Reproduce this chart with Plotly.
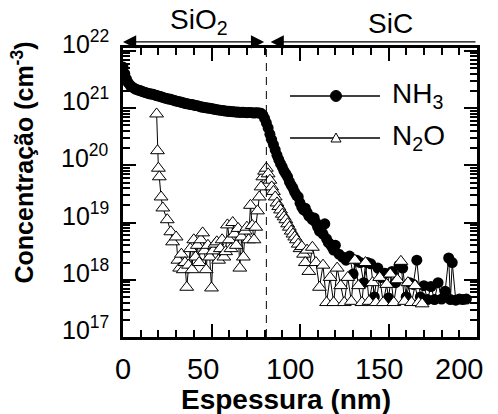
import plotly.graph_objects as go

# ---------------- data ----------------
nh3_x = [0, 1, 2, 3, 4, 5, 6, 7, 8, 9, 10, 11, 12, 13, 14, 15, 16, 17, 18, 19,
         20, 21, 22, 23, 24, 25, 26, 27, 28, 29, 30, 31, 32, 33, 34, 35, 36, 37, 38, 39,
         40, 41, 42, 43, 44, 45, 46, 47, 48, 49, 50, 51, 52, 53, 54, 55, 56, 57, 58, 59,
         60, 61, 62, 63, 64, 65, 66, 67, 68, 69, 70, 71, 72, 73, 74, 75, 76, 77, 78, 79,
         80, 81, 82, 83, 84, 85, 86, 87, 88, 89, 90, 91, 92, 93, 94, 95, 96, 97, 98, 99,
         100, 101, 102, 103, 104, 105, 106, 107, 108, 109, 110, 111, 112, 113, 114, 115,
         116, 117, 118, 119, 120, 122, 124, 126, 128, 130, 132, 134, 136, 138, 140, 142,
         144, 146, 148, 150, 152, 154, 156, 158, 160, 162, 164, 166, 168, 170, 172, 174,
         176, 178, 180, 182, 184, 185, 186, 188, 190, 192, 194]
nh3_y = [5.2e21, 4.0e21, 3.2e21, 2.75e21, 2.5e21, 2.35e21, 2.25e21, 2.15e21, 2.1e21, 2.05e21,
         2.0e21, 1.95e21, 1.9e21, 1.86e21, 1.82e21, 1.78e21, 1.76e21, 1.74e21, 1.70e21, 1.66e21,
         1.62e21, 1.6e21, 1.56e21, 1.52e21, 1.49e21, 1.46e21, 1.44e21, 1.42e21, 1.39e21, 1.36e21,
         1.33e21, 1.31e21, 1.29e21, 1.26e21, 1.24e21, 1.21e21, 1.19e21, 1.18e21, 1.16e21, 1.15e21,
         1.13e21, 1.11e21, 1.10e21, 1.08e21, 1.05e21, 1.04e21, 1.02e21, 1.01e21, 1.0e21, 9.9e20,
         9.8e20, 9.6e20, 9.5e20, 9.4e20, 9.3e20, 9.2e20, 9.1e20, 9.0e20, 8.9e20, 8.85e20,
         8.8e20, 8.7e20, 8.6e20, 8.65e20, 8.5e20, 8.55e20, 8.4e20, 8.5e20, 8.45e20, 8.4e20,
         8.3e20, 8.4e20, 8.35e20, 8.3e20, 8.2e20, 8.3e20, 8.25e20, 8.2e20, 8.1e20, 7.6e20,
         6.6e20, 5.5e20, 4.5e20, 3.5e20, 2.8e20, 2.3e20, 1.86e20, 1.5e20, 1.26e20, 1.07e20,
         9.3e19, 7.9e19, 7.1e19, 6.3e19, 5.2e19, 4.5e19, 4.0e19, 3.4e19, 3.0e19, 2.8e19,
         2.2e19, 1.86e19, 1.66e19, 1.78e19, 1.5e19, 1.3e19, 1.26e19, 1.12e19, 1.2e19, 1.0e19,
         8.3e18, 7.1e18, 7.9e18, 6.3e18, 9.5e18, 5.2e18, 4.5e18, 4.2e18, 3.8e18, 3.3e18,
         4.0e18, 2.8e18, 2.5e18, 2.2e18, 2.6e18, 1.26e18, 2.2e18, 2.0e18, 8.9e17, 2.0e18,
         1.9e18, 5.0e17, 1.6e18, 1.1e18, 1.3e18, 4.8e17, 1.4e18, 8.9e17, 1.8e18, 1.6e18,
         5.0e17, 8.9e17, 8.3e17, 2.2e18, 5.0e17, 7.9e17, 4.5e17, 7.6e17, 4.5e17, 8.9e17,
         4.6e17, 6.3e17, 2.4e18, 4.5e17, 2.0e18, 4.4e17, 4.6e17, 4.5e17, 4.6e17]

n2o_x = [19, 19.5, 20, 20.5, 21.5, 22.5, 25, 27, 28, 30, 31, 32, 33, 34, 35, 36, 37, 38, 39, 40,
         41, 42, 43, 44, 45, 46, 47, 48, 49, 50, 51, 52, 53, 54, 55, 56, 57, 58, 59, 60,
         61, 62, 63, 64, 65, 66, 67, 68, 69, 70, 71, 72, 73, 74, 75, 76, 77, 78, 79, 80,
         81, 82, 83, 84, 85, 86, 87, 88, 89, 90, 91, 92, 93, 94, 95, 96, 97, 98, 99, 100,
         101, 102, 103, 104, 105, 107, 109, 111, 113, 115, 117, 119, 121, 123, 125, 127,
         129, 131, 133, 135, 137, 139, 141, 143, 145, 147, 149, 151, 153, 155, 157, 159,
         161, 163, 165, 167, 169]
n2o_y = [7.9e20, 1.8e20, 8.9e19, 6.3e19, 2.8e19, 1.8e19, 1.12e19, 6.9e18, 4.6e18, 5.6e18,
         2.2e18, 1.6e18, 2.8e18, 1.5e18, 2.0e18, 7.4e17, 1.8e18, 3.5e18, 1.5e18, 5.0e18,
         2.5e18, 4.0e18, 2.0e18, 5.0e18, 6.6e18, 3.2e18, 1.5e18, 4.0e18, 2.5e18, 7.2e17,
         3.2e18, 4.2e18, 4.6e18, 2.2e18, 3.5e18, 5.0e18, 2.5e18, 3.1e18, 9.1e18, 5.0e18,
         3.5e18, 1.0e19, 6.3e18, 4.0e18, 7.9e18, 1.6e18, 5.6e18, 2.5e18, 7.1e18, 8.3e18,
         5.0e18, 2.0e19, 8.9e18, 5.0e18, 8.3e18, 1.6e19, 2.8e19, 4.2e19, 6.3e19, 7.9e19,
         8.9e19, 7.1e19, 5.5e19, 4.2e19, 3.5e19, 2.8e19, 2.2e19, 1.9e19, 1.66e19, 1.4e19,
         1.26e19, 1.12e19, 9.5e18, 8.3e18, 7.1e18, 6.3e18, 5.6e18, 5.0e18, 4.2e18, 3.5e18,
         3.8e18, 2.8e18, 2.0e18, 3.3e18, 1.4e18, 3.7e18, 2.0e18, 7.4e17, 1.8e18, 4.0e17,
         1.1e18, 4.0e17, 1.6e18, 7.9e17, 4.0e17, 1.1e18, 4.2e17, 2.2e18, 7.9e17, 4.0e17,
         2.0e18, 4.2e17, 8.9e17, 4.0e17, 1.1e18, 4.0e17, 8.3e17, 1.26e18, 4.0e17, 1.0e18,
         2.1e18, 4.2e17, 8.9e17, 4.0e17, 7.9e17, 4.0e17, 3.8e17]

x_ticks = [0, 50, 100, 150, 200]
y_exponents = [17, 18, 19, 20, 21, 22]
interface_x = 81
series_names = ["NH<sub>3</sub>", "N<sub>2</sub>O"]
region_names = ["SiO<sub>2</sub>", "SiC"]

# ---------------- figure ----------------
FONT = "Liberation Sans, Arial, sans-serif"
fig = go.Figure()

fig.add_trace(go.Scatter(
    x=nh3_x, y=nh3_y, mode="lines+markers", showlegend=False,
    line=dict(color="black", width=1),
    marker=dict(symbol="circle", size=11, color="black", line=dict(width=0)),
))
fig.add_trace(go.Scatter(
    x=n2o_x, y=n2o_y, mode="lines+markers", showlegend=False,
    line=dict(color="black", width=1),
    marker=dict(symbol="triangle-up", size=12, color="white",
                line=dict(color="black", width=1)),
))

axis_common = dict(
    showline=True, linecolor="black", linewidth=3, mirror="ticks",
    ticks="inside", tickcolor="black", tickwidth=2, ticklen=13,
    showgrid=False, zeroline=False, showticklabels=False,
)
fig.update_xaxes(range=[0, 200], tickvals=x_ticks,
                 minor=dict(dtick=10, ticks="inside", ticklen=7, tickwidth=2,
                            tickcolor="black", showgrid=False),
                 **axis_common)
fig.update_yaxes(type="log", range=[17, 22.05], dtick=1,
                 minor=dict(dtick="D1", ticks="inside", ticklen=7, tickwidth=2,
                            tickcolor="black", showgrid=False),
                 **axis_common)

# interface dashed line
fig.add_shape(type="line", xref="x", yref="paper", x0=interface_x, x1=interface_x,
              y0=0, y1=1, line=dict(color="black", width=1, dash="8px,6px"))

ann = []
# y tick labels
for e in y_exponents:
    ann.append(dict(xref="paper", yref="y", x=0, y=e, xanchor="right", yanchor="middle",
                    xshift=-12, yshift=9, showarrow=False,
                    text=f"10<sup>{e}</sup>", font=dict(family=FONT, size=25, color="black")))
# x tick labels
x_shift = {0: 0, 50: -9, 100: -10, 150: -10, 200: -18}
for v in x_ticks:
    ann.append(dict(xref="x", yref="paper", x=v, y=0, xanchor="center", yanchor="top",
                    xshift=x_shift[v], yshift=-14, showarrow=False, text=str(v),
                    font=dict(family=FONT, size=29, color="black")))
# axis titles
ann.append(dict(xref="paper", yref="paper", x=0.5, y=0, xanchor="center", yanchor="top",
                yshift=-45, xshift=-14, showarrow=False, text="<b>Espessura (nm)</b>",
                font=dict(family=FONT, size=28, color="black")))
ann.append(dict(xref="paper", yref="paper", x=0, y=0.5, xanchor="center", yanchor="middle",
                xshift=-101, yshift=30, textangle=-90, showarrow=False,
                text="<b>Concentração (cm<sup>-3</sup>)</b>",
                font=dict(family=FONT, size=25, color="black")))
# region arrows
ann.append(dict(xref="x", yref="paper", axref="x", ayref="pixel", x=0, y=1.021,
                ax=interface_x - 0.4, ay=0, text="", showarrow=True,
                arrowhead=2, arrowsize=2.2, arrowwidth=1.2, arrowcolor="black",
                arrowside="end+start", startarrowhead=2, startarrowsize=2.2,
                standoff=0, startstandoff=0))
ann.append(dict(xref="x", yref="paper", axref="x", ayref="pixel", x=interface_x + 2.4,
                y=1.021, ax=200, ay=0, text="", showarrow=True,
                arrowhead=2, arrowsize=2.2, arrowwidth=1.2, arrowcolor="black",
                standoff=0))
ann.append(dict(xref="x", yref="paper", x=43, y=1.021, yanchor="bottom", yshift=1,
                showarrow=False, text=region_names[0],
                font=dict(family=FONT, size=28, color="black")))
ann.append(dict(xref="x", yref="paper", x=151, y=1.021, yanchor="bottom", yshift=1,
                showarrow=False, text=region_names[1],
                font=dict(family=FONT, size=28, color="black")))
# legend text
for i, name in enumerate(series_names):
    ann.append(dict(xref="paper", yref="paper", x=0.755, y=[0.834, 0.6886][i],
                    xanchor="left", yanchor="middle", showarrow=False, text=name,
                    font=dict(family=FONT, size=28, color="black")))
fig.update_layout(annotations=ann)

# legend samples
for i, yy in enumerate([0.834, 0.6886]):
    fig.add_shape(type="line", xref="paper", yref="paper", x0=0.4718, x1=0.726,
                  y0=yy, y1=yy, line=dict(color="black", width=1.5))
fig.add_shape(type="circle", xref="paper", yref="paper", xsizemode="pixel",
              ysizemode="pixel", xanchor=0.6017, yanchor=0.834,
              x0=-5.5, x1=5.5, y0=-5.5, y1=5.5, fillcolor="black",
              line=dict(color="black", width=1))
fig.add_shape(type="path", xref="paper", yref="paper", xsizemode="pixel",
              ysizemode="pixel", xanchor=0.6017, yanchor=0.6886,
              path="M -5 -4 L 5 -4 L 0 5 Z", fillcolor="white",
              line=dict(color="black", width=1))

fig.update_layout(
    width=498, height=414,
    margin=dict(l=123, r=21, t=48, b=77),
    paper_bgcolor="white", plot_bgcolor="white",
    font=dict(family=FONT, color="black"),
)

fig.write_html("out.html")
